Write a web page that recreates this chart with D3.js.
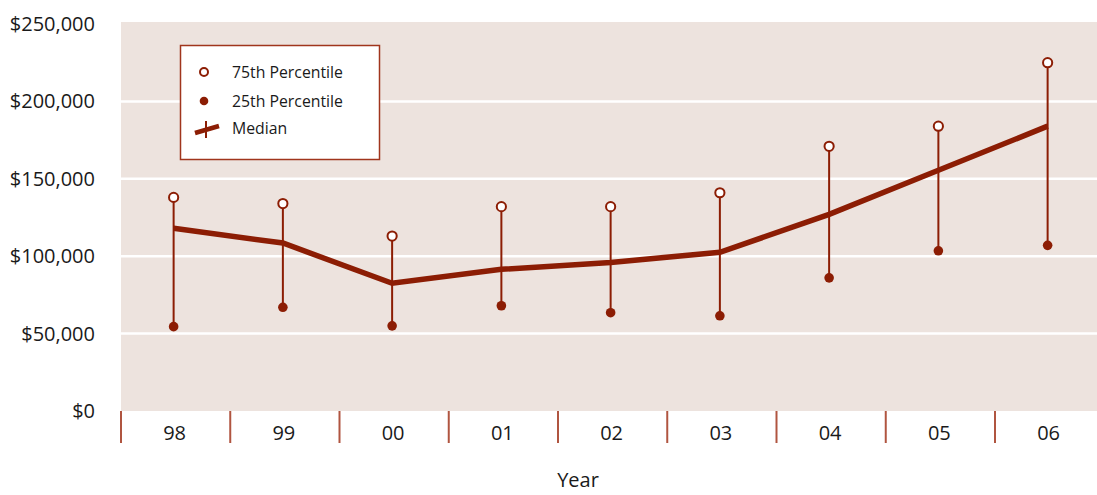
<!DOCTYPE html>
<html><head><meta charset="utf-8">
<script src="https://cdn.jsdelivr.net/npm/d3@7"></script>
<style>
html,body{margin:0;padding:0;background:#fff;}
svg{display:block;font-family:"Open Sans","Noto Sans",sans-serif;}
</style></head>
<body><svg id="chart" width="1097" height="495"></svg>
<script>
const years = ["98","99","00","01","02","03","04","05","06"];
const p75 = [138000,134000,113000,132000,132000,141000,171000,184000,225000];
const p25 = [54500,67000,55000,68000,63500,61500,86000,103500,107000];
const median = [118000,108500,82500,91500,96000,102500,127000,155500,184000];
const yTicks = [0,50000,100000,150000,200000,250000];

const svg = d3.select("#chart");
const red = "#8c1d04";
const mLeft = 121, mRight = 1104.25, mTop = 24, mBottom = 411;

const x = d3.scaleBand().domain(years).range([mLeft, mRight]).paddingInner(0).paddingOuter(0);
const y = d3.scaleLinear().domain([0,250000]).range([mBottom, mTop]);
const px = d => x(d) + x.bandwidth()/2 - 2;

svg.append("rect").attr("x", mLeft).attr("y", 22).attr("width", 1097-mLeft).attr("height", mBottom-22).attr("fill", "#ede3de");

// gridlines
svg.append("g").selectAll("line").data(yTicks.filter(t => t>0 && t<250000)).join("line")
  .attr("x1", mLeft).attr("x2", 1097).attr("y1", d => y(d)).attr("y2", d => y(d))
  .attr("stroke", "#fff").attr("stroke-width", 2.5);

// y labels
const fmt = d3.format(",");
svg.append("g").selectAll("text").data(yTicks).join("text")
  .attr("x", 95).attr("y", d => y(d)).attr("dy", "0.35em").attr("text-anchor", "end")
  .attr("font-size", 20).attr("fill", "#1a1a1a").text(d => "$" + fmt(d));

// x axis separators
const seps = years.map(d => x(d));
svg.append("g").selectAll("line").data(seps).join("line")
  .attr("x1", d => d).attr("x2", d => d).attr("y1", mBottom).attr("y2", 443)
  .attr("stroke", "#b05540").attr("stroke-width", 2);
svg.append("g").selectAll("text").data(years).join("text")
  .attr("x", d => x(d) + x.bandwidth()/2 - 1).attr("y", 433).attr("dy", "0.35em").attr("text-anchor", "middle")
  .attr("font-size", 20).attr("fill", "#1a1a1a").text(d => d);
svg.append("text").attr("x", 578).attr("y", 480).attr("dy", "0.35em").attr("text-anchor", "middle")
  .attr("font-size", 20).attr("fill", "#1a1a1a").text("Year");

// whiskers
const rows = years.map((d,i) => ({year:d, hi:p75[i], lo:p25[i], med:median[i]}));
svg.append("g").selectAll("line").data(rows).join("line")
  .attr("x1", d => px(d.year)).attr("x2", d => px(d.year))
  .attr("y1", d => y(d.hi)).attr("y2", d => y(d.lo))
  .attr("stroke", red).attr("stroke-width", 2);

// median line
svg.append("path").datum(rows)
  .attr("d", d3.line().x(d => px(d.year)).y(d => y(d.med)))
  .attr("fill", "none").attr("stroke", red).attr("stroke-width", 5.5).attr("stroke-linejoin", "miter");

// points
svg.append("g").selectAll("circle").data(rows).join("circle")
  .attr("cx", d => px(d.year)).attr("cy", d => y(d.lo)).attr("r", 4.8).attr("fill", red);
svg.append("g").selectAll("circle").data(rows).join("circle")
  .attr("cx", d => px(d.year)).attr("cy", d => y(d.hi)).attr("r", 4.6)
  .attr("fill", "#fff").attr("stroke", red).attr("stroke-width", 2);

// legend
const lg = svg.append("g");
lg.append("rect").attr("x", 180.5).attr("y", 45.5).attr("width", 199).attr("height", 114)
  .attr("fill", "#fff").attr("stroke", "#a0351c").attr("stroke-width", 1.5);
lg.append("circle").attr("cx", 204).attr("cy", 72).attr("r", 4).attr("fill", "#fff").attr("stroke", red).attr("stroke-width", 2);
lg.append("circle").attr("cx", 204).attr("cy", 101).attr("r", 4.3).attr("fill", red);
lg.append("line").attr("x1", 195).attr("x2", 219).attr("y1", 133).attr("y2", 126).attr("stroke", red).attr("stroke-width", 4.5);
lg.append("line").attr("x1", 206).attr("x2", 206).attr("y1", 121).attr("y2", 138).attr("stroke", red).attr("stroke-width", 2);
const lt = [["75th Percentile",72],["25th Percentile",101],["Median",128]];
lg.selectAll("text.l").data(lt).join("text").attr("class","l")
  .attr("x", 232).attr("y", d => d[1]).attr("dy", "0.35em").attr("font-size", 15.8).attr("fill", "#1a1a1a").text(d => d[0]);
</script></body></html>
